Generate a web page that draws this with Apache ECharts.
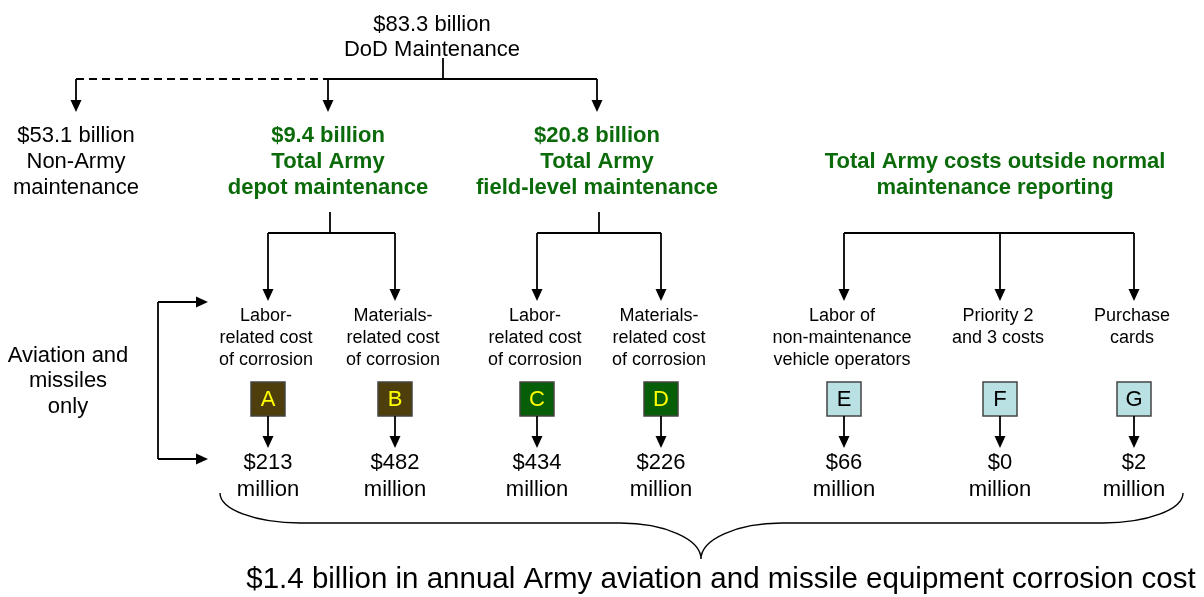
<!DOCTYPE html>
<html><head><meta charset="utf-8">
<script src="https://cdn.jsdelivr.net/npm/echarts@6/dist/echarts.min.js"></script>
<style>html,body{margin:0;padding:0;background:#fff}#c{width:1204px;height:597px}</style>
</head><body><div id="c"></div>
<script>
// ---------------- data ----------------
const rootLines = ['$83.3 billion', 'DoD Maintenance'];
const branchNames = ['$53.1 billion', '$9.4 billion', '$20.8 billion', ''];
const branchLabels = [
  ['Non-Army', 'maintenance'],
  ['Total Army', 'depot maintenance'],
  ['Total Army', 'field-level maintenance'],
  ['Total Army costs outside normal', 'maintenance reporting']
];
const categories = ['A', 'B', 'C', 'D', 'E', 'F', 'G'];
const categoryLabels = [
  ['Labor-', 'related cost', 'of corrosion'],
  ['Materials-', 'related cost', 'of corrosion'],
  ['Labor-', 'related cost', 'of corrosion'],
  ['Materials-', 'related cost', 'of corrosion'],
  ['Labor of', 'non-maintenance', 'vehicle operators'],
  ['Priority 2', 'and 3 costs'],
  ['Purchase', 'cards']
];
const costMillions = [213, 482, 434, 226, 66, 0, 2];
const categoryBranch = [1, 1, 2, 2, 3, 3, 3];
const sideNote = ['Aviation and', 'missiles', 'only'];
const totalLabel = '$1.4 billion in annual Army aviation and missile equipment corrosion cost';

// ---------------- layout (positions / styles) ----------------
const W = 1204, H = 597;
const FONT = 'Arial, "Liberation Sans", sans-serif';
const GREEN = '#0b6b0b';
const LW = 1.8;
const L = {
  rootX: 432, rootY: [25, 50], rootStemX: 443, rootStemTop: 58, topBarY: 79, topTipY: 112,
  branchX: [76, 328, 597, 995], branchTextY: [136, 162, 188], branchStemTop: 212,
  groupBarY: 233, colTipY: 301, colX: [268, 395, 537, 661, 844, 1000, 1134],
  labelY: [316, 338, 360], boxCY: 399, box: 34, valArrowTip: 448, valueY: [463, 490],
  sideX: 158, sideTipX: 208, sideY: [302, 459], sideTextX: 68, sideTextY: [356, 381, 407],
  brace: { x0: 220, x1: 1183, top: 493, bar: 523, tip: 559, cx: 701, rx: 80, crx: 81 },
  totalY: 580, totalX: 721
};
const boxFill = ['#4d3e0c', '#4d3e0c', '#065f06', '#065f06', '#b9e0e2', '#b9e0e2', '#b9e0e2'];
const boxText = ['#ffff00', '#ffff00', '#ffff00', '#ffff00', '#000', '#000', '#000'];

// ---------------- helpers ----------------
function txt(pt, text, size, opts) {
  opts = opts || {};
  return { type: 'text', style: { text: text, x: pt[0], y: pt[1], fill: opts.fill || '#000',
    fontSize: size, fontFamily: FONT, fontWeight: opts.bold ? 'bold' : 'normal',
    align: opts.align || 'center', verticalAlign: 'middle' } };
}
function seg(a, b, dash) {
  return { type: 'line', shape: { x1: a[0], y1: a[1], x2: b[0], y2: b[1] },
    style: { stroke: '#000', lineWidth: LW, lineDash: dash || null } };
}
const HL = 12, HW = 5.5;
function arrowDown(a, tip) {
  return [seg(a, [tip[0], tip[1] - HL + 1]),
    { type: 'polygon', shape: { points: [[tip[0] - HW, tip[1] - HL], [tip[0] + HW, tip[1] - HL], [tip[0], tip[1]]] }, style: { fill: '#000' } }];
}
function arrowRight(a, tip) {
  return [seg(a, [tip[0] - HL + 1, tip[1]]),
    { type: 'polygon', shape: { points: [[tip[0] - HL, tip[1] - HW], [tip[0] - HL, tip[1] + HW], [tip[0], tip[1]]] }, style: { fill: '#000' } }];
}

// ---------------- render functions ----------------
function renderRoot(params, api) {
  const c = p => api.coord(p);
  const ch = [];
  rootLines.forEach((t, k) => ch.push(txt(c([L.rootX, L.rootY[k]]), t, 22)));
  ch.push(seg(c([L.rootStemX, L.rootStemTop]), c([L.rootStemX, L.topBarY])));
  ch.push(seg(c([L.branchX[0], L.topBarY]), c([L.branchX[1], L.topBarY]), [8, 5]));
  ch.push(seg(c([L.branchX[1], L.topBarY]), c([L.branchX[2], L.topBarY])));
  // side note with bracket arrows
  sideNote.forEach((t, k) => ch.push(txt(c([L.sideTextX, L.sideTextY[k]]), t, 22)));
  ch.push(seg(c([L.sideX, L.sideY[0]]), c([L.sideX, L.sideY[1]])));
  L.sideY.forEach(y => ch.push(...arrowRight(c([L.sideX, y]), c([L.sideTipX, y]))));
  // brace (quarter ellipses + straight bars)
  const b = L.brace, K = 0.552;
  const ry = b.bar - b.top, cry = b.tip - b.bar;
  const P = (x, y) => c([x, y]).join(' ');
  const d = 'M ' + P(b.x0, b.top) +
    ' C ' + P(b.x0, b.top + ry * K) + ' ' + P(b.x0 + b.rx * (1 - K), b.bar) + ' ' + P(b.x0 + b.rx, b.bar) +
    ' L ' + P(b.cx - b.crx, b.bar) +
    ' C ' + P(b.cx - b.crx * (1 - K), b.bar) + ' ' + P(b.cx, b.tip - cry * K) + ' ' + P(b.cx, b.tip) +
    ' C ' + P(b.cx, b.tip - cry * K) + ' ' + P(b.cx + b.crx * (1 - K), b.bar) + ' ' + P(b.cx + b.crx, b.bar) +
    ' L ' + P(b.x1 - b.rx, b.bar) +
    ' C ' + P(b.x1 - b.rx * (1 - K), b.bar) + ' ' + P(b.x1, b.top + ry * K) + ' ' + P(b.x1, b.top);
  ch.push({ type: 'path', shape: { pathData: d }, style: { fill: 'none', stroke: '#000', lineWidth: 1.4 } });
  ch.push(txt(c([L.totalX, L.totalY]), totalLabel, 29.5));
  return { type: 'group', children: ch };
}

function renderBranch(params, api) {
  const i = params.dataIndex;
  const c = p => api.coord(p);
  const x = L.branchX[i];
  const ch = [];
  const green = i > 0;
  const lines = [branchNames[i]].concat(branchLabels[i]);
  lines.forEach((t, k) => { if (t) ch.push(txt(c([x, L.branchTextY[k]]), t, 22, { bold: green, fill: green ? GREEN : '#000' })); });
  if (i < 3) ch.push(...arrowDown(c([x, L.topBarY]), c([x, L.topTipY])));
  // connector to children
  const kids = categories.map((_, j) => j).filter(j => categoryBranch[j] === i);
  if (kids.length) {
    const xs = kids.map(j => L.colX[j]);
    const x0 = Math.min(...xs), x1 = Math.max(...xs);
    ch.push(seg(c([x0, L.groupBarY]), c([x1, L.groupBarY])));
    if (i < 3) ch.push(seg(c([x + 2, L.branchStemTop]), c([x + 2, L.groupBarY])));
  }
  return { type: 'group', children: ch };
}

function renderColumn(params, api) {
  const i = params.dataIndex;
  const c = p => api.coord(p);
  const x = L.colX[i];
  const ch = [];
  ch.push(...arrowDown(c([x, L.groupBarY]), c([x, L.colTipY])));
  categoryLabels[i].forEach((t, k) => ch.push(txt(c([x - 2, L.labelY[k]]), t, 18)));
  const s = api.size([L.box, L.box]);
  const ctr = c([x, L.boxCY]);
  ch.push({ type: 'rect', shape: { x: ctr[0] - s[0] / 2, y: ctr[1] - Math.abs(s[1]) / 2, width: s[0], height: Math.abs(s[1]) },
    style: { fill: boxFill[i], stroke: '#444', lineWidth: 1.5 } });
  ch.push(txt([ctr[0], ctr[1] + 1], categories[i], 22, { fill: boxText[i] }));
  ch.push(...arrowDown(c([x, L.boxCY + L.box / 2]), c([x, L.valArrowTip])));
  ch.push(txt(c([x, L.valueY[0]]), '$' + costMillions[i], 22));
  ch.push(txt(c([x, L.valueY[1]]), 'million', 22));
  return { type: 'group', children: ch };
}

const chart = echarts.init(document.getElementById('c'), null, { renderer: 'canvas' });
chart.setOption({
  animation: false,
  backgroundColor: '#fff',
  grid: { left: 0, right: 0, top: 0, bottom: 0 },
  xAxis: { type: 'value', min: 0, max: W, show: false },
  yAxis: { type: 'value', min: 0, max: H, inverse: true, show: false },
  series: [
    { type: 'custom', name: 'root', clip: false, renderItem: renderRoot, data: [[L.rootX, L.rootY[0]]] },
    { type: 'custom', name: 'branches', clip: false, renderItem: renderBranch,
      data: branchNames.map((n, i) => [L.branchX[i], L.branchTextY[1]]) },
    { type: 'custom', name: 'categories', clip: false, renderItem: renderColumn,
      data: categories.map((n, i) => [L.colX[i], L.boxCY]) }
  ]
});
</script></body></html>
